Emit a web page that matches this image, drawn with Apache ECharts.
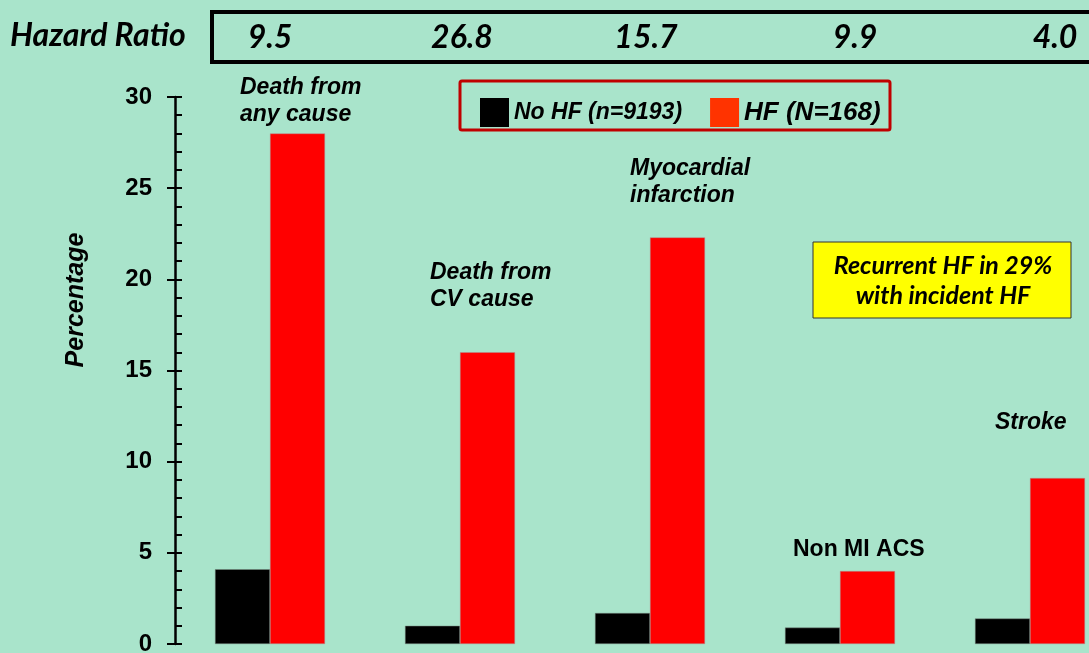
<!DOCTYPE html>
<html>
<head>
<meta charset="utf-8">
<script src="https://cdn.jsdelivr.net/npm/echarts@6/dist/echarts.min.js"></script>
<style>
html,body{margin:0;padding:0;background:#a9e4cb;}
#chart{width:1089px;height:653px;}
</style>
</head>
<body>
<div id="chart"></div>
<script>
const categories = ['Death from any cause', 'Death from CV cause', 'Myocardial infarction', 'Non MI ACS', 'Stroke'];
const noHF = [4.1, 1.0, 1.7, 0.9, 1.4];
const hf = [28.0, 16.0, 22.3, 4.0, 9.1];
const hazardRatios = ['9.5', '26.8', '15.7', '9.9', '4.0'];
const yTicks = [0, 5, 10, 15, 20, 25, 30];

const chart = echarts.init(document.getElementById('chart'));
const narrow = 'Lato, "Liberation Sans Narrow", sans-serif';
const arial = '"Liberation Sans", Arial, sans-serif';
const hrX = [270, 462, 646, 855, 1055];

const graphics = [
  {type:'text', left:10, top:20, style:{text:'Hazard Ratio', font:'italic bold 32px ' + narrow, fill:'#000'}},
  {type:'rect', shape:{x:212, y:12, width:920, height:50}, style:{fill:'none', stroke:'#000', lineWidth:4}},
  {type:'rect', shape:{x:460, y:81, width:430, height:49, r:2}, style:{fill:'none', stroke:'#c00000', lineWidth:3}},
  {type:'rect', shape:{x:813, y:242, width:258, height:76}, style:{fill:'#ffff00', stroke:'#333', lineWidth:1}},
  {type:'text', x:943, y:281, style:{text:'Recurrent HF in 29%\nwith incident HF', font:'italic bold 25px ' + narrow, fill:'#000', align:'center', verticalAlign:'middle', lineHeight:30}},
  {type:'text', x:240, y:101, style:{text:'Death from\nany cause', font:'italic bold 23px ' + arial, fill:'#000', verticalAlign:'middle', lineHeight:27}},
  {type:'text', x:430, y:286, style:{text:'Death from\nCV cause', font:'italic bold 23px ' + arial, fill:'#000', verticalAlign:'middle', lineHeight:27}},
  {type:'text', x:630, y:182, style:{text:'Myocardial\ninfarction', font:'italic bold 23px ' + arial, fill:'#000', verticalAlign:'middle', lineHeight:27}},
  {type:'text', x:793, y:550, style:{text:'Non MI ACS', font:'bold 23px ' + arial, fill:'#000', verticalAlign:'middle'}},
  {type:'text', x:995, y:423, style:{text:'Stroke', font:'italic bold 23px ' + arial, fill:'#000', verticalAlign:'middle'}},
  {type:'text', x:76, y:300, rotation:Math.PI/2, style:{text:'Percentage', font:'italic bold 25px ' + arial, fill:'#000', align:'center', verticalAlign:'middle'}}
];
hazardRatios.forEach((v, i) => {
  graphics.push({type:'text', x:hrX[i], y:38, style:{text:v, font:'italic bold 32px ' + narrow, fill:'#000', align:'center', verticalAlign:'middle'}});
});

chart.setOption({
  backgroundColor:'#a9e4cb',
  animation:false,
  grid:{left:175, top:97, width:950, height:547, containLabel:false, outerBoundsMode:'none'},
  legend:{
    left:475, top:93, itemWidth:29, itemHeight:29, itemGap:28, icon:'rect',
    data:[
      {name:'No HF (n=9193)', itemStyle:{color:'#000'}, textStyle:{fontSize:23, fontStyle:'italic', fontWeight:'bold', fontFamily:arial, color:'#000'}},
      {name:'HF (N=168)', itemStyle:{color:'#ff3300'}, textStyle:{fontSize:26, fontStyle:'italic', fontWeight:'bold', fontFamily:arial, color:'#000'}}
    ],
    itemStyle:{borderWidth:0}
  },
  xAxis:{type:'category', data:categories, axisLine:{show:false}, axisTick:{show:false}, axisLabel:{show:false}},
  yAxis:[
    {type:'value', min:0, max:30, interval:5, position:'left',
     axisLine:{show:true, lineStyle:{color:'#000', width:2.5}},
     axisTick:{show:true, inside:false, length:8, lineStyle:{color:'#000', width:2}},
     axisLabel:{margin:23, color:'#000', fontSize:24, fontWeight:'bold', fontFamily:arial,
       formatter:(v)=> yTicks.includes(v) ? String(v) : ''},
     splitLine:{show:false}},
    {type:'value', min:0, max:30, interval:1, position:'left',
     axisLine:{show:false}, axisLabel:{show:false}, splitLine:{show:false},
     axisTick:{show:true, inside:true, length:7, lineStyle:{color:'#000', width:2}}}
  ],
  series:[
    {name:'No HF (n=9193)', type:'bar', data:noHF, barWidth:55, barGap:'0%', itemStyle:{color:'#000', borderColor:'#7a8a80', borderWidth:0.5}},
    {name:'HF (N=168)', type:'bar', data:hf, barWidth:55, barGap:'0%', itemStyle:{color:'#ff0000', borderColor:'#b09090', borderWidth:0.5}}
  ],
  graphic:graphics
});
</script>
</body>
</html>
